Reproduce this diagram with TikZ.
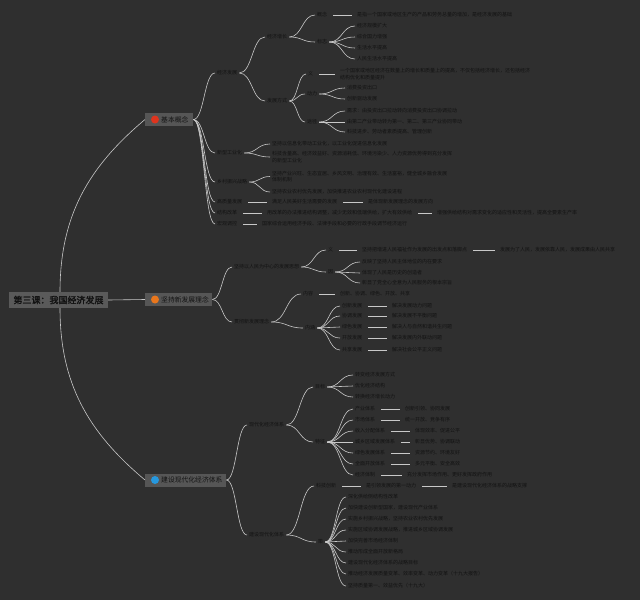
\documentclass[tikz,border=0pt]{standalone}
\usepackage{fontspec}
\setmainfont{Noto Sans CJK SC}
\newfontfamily\cjkbold[FakeBold=2]{Noto Sans CJK SC}
\usetikzlibrary{calc}
\definecolor{bgc}{RGB}{47,47,47}
\definecolor{lc}{RGB}{200,200,200}
\definecolor{tc}{RGB}{18,18,18}
\definecolor{boxc}{RGB}{86,86,86}
\definecolor{rootc}{RGB}{90,90,90}
\definecolor{dotr}{RGB}{222,52,30}
\definecolor{doto}{RGB}{232,118,28}
\definecolor{dotb}{RGB}{38,152,222}
\begin{document}
\begin{tikzpicture}[x=1pt,y=-1pt,
 conn/.style={draw=lc,line width=0.6pt},
 sbr/.style={to path={let \p1=(\tikztostart),\p2=(\tikztotarget),\n1={(\x1+\x2)/2} in .. controls (\n1,\y1) and (\n1,\y2) .. (\tikztotarget)}},
 lab/.style={anchor=west,inner sep=2pt,xshift=-2pt,font=\fontsize{5}{6.5}\selectfont,text=tc,align=left},
 mbox/.style={fill=boxc,minimum height=13pt,inner sep=0pt,anchor=west},
 mtext/.style={anchor=west,inner sep=0pt,font=\fontsize{6.8}{8}\selectfont,text=tc},
 dot/.style={circle,inner sep=0pt,minimum size=8pt},
 rowl/.style={conn,shorten <=4pt,shorten >=3pt},
]
\useasboundingbox (0,0) rectangle (640,600);
\fill[bgc] (0,0) rectangle (640,600);

% main boxes
\node[mbox,minimum width=48pt] (k1) at (145,119.5) {};
\node[dot,fill=dotr] (k1c) at (155,119.5) {};
\node[mtext] (k1t) at (161,119.5) {基本概念};
\node[mbox,minimum width=67pt] (k2) at (145,299.5) {};
\node[dot,fill=doto] (k2c) at (155,299.5) {};
\node[mtext] (k2t) at (161,299.5) {坚持新发展理念};
\node[mbox,minimum width=81pt] (k3) at (145,480) {};
\node[dot,fill=dotb] (k3c) at (155,480) {};
\node[mtext] (k3t) at (161,480) {建设现代化经济体系};

% root
\coordinate (rtop) at (60,292);
\coordinate (rbot) at (60,308);
\draw[conn] (rtop) to[out=90,in=220] (k1.west);
\draw[conn] (rbot) to[out=270,in=140] (k3.west);
\node[fill=rootc,minimum width=99pt,minimum height=16pt,inner sep=0pt,font=\cjkbold\fontsize{9}{10}\selectfont,text=tc] (root) at (58.5,300) {第三课：我国经济发展};
\draw[conn] (root.east) -- (k2.west);

% ---------- branch 1 ----------
\node[lab] (a1) at (217,73) {经济发展};
\node[lab] (b1) at (267,37) {经济增长};
\node[lab] (b2) at (267,101) {发展方式};
\node[lab] (c1) at (317,15) {概念};
\node[lab] (c1t) at (357,15) {是指一个国家或地区生产的产品和劳务总量的增加，是经济发展的基础};
\node[lab] (c2) at (317,42) {标志};
\node[lab] (c2a) at (357,26) {经济规模扩大};
\node[lab] (c2b) at (357,37) {综合国力增强};
\node[lab] (c2c) at (357,48) {生活水平提高};
\node[lab] (c2d) at (357,59) {人民生活水平提高};
\node[lab] (c3) at (308,74) {义};
\node[lab] (c3t) at (340,74) {一个国家或地区经济在数量上的增长和质量上的提高，不仅包括经济增长，还包括经济\\结构优化和质量提升};
\node[lab] (c4) at (307,94) {动力};
\node[lab] (c4a) at (347,88) {消费投资出口};
\node[lab] (c4b) at (347,99) {创新驱动发展};
\node[lab] (c5) at (307,122) {途径};
\node[lab] (c5a) at (347,111) {需求：由投资出口拉动转向消费投资出口协调拉动};
\node[lab] (c5b) at (347,122) {由第二产业带动转为第一、第二、第三产业协同带动};
\node[lab] (c5c) at (347,132) {科技进步、劳动者素质提高、管理创新};

\node[lab] (a2) at (217,153) {新型工业化};
\node[lab] (a2a) at (272,144) {坚持以信息化带动工业化，以工业化促进信息化发展};
\node[lab] (a2b) at (272,157) {科技含量高、经济效益好、资源消耗低、环境污染少、人力资源优势得到充分发挥\\的新型工业化};
\node[lab] (a3) at (217,182) {乡村振兴战略};
\node[lab] (a3a) at (272,176.5) {坚持产业兴旺、生态宜居、乡风文明、治理有效、生活富裕，健全城乡融合发展\\体制机制};
\node[lab] (a3b) at (272,192) {坚持农业农村优先发展，加快推进农业农村现代化建设进程};
\node[lab] (a4) at (217,202) {高质量发展};
\node[lab] (a4a) at (272,202) {满足人民美好生活需要的发展};
\node[lab] (a4b) at (368,202) {是体现新发展理念的发展方向};
\node[lab] (a5) at (217,213) {结构改革};
\node[lab] (a5a) at (267,213) {用改革的办法推进结构调整，减少无效和低端供给，扩大有效供给};
\node[lab] (a5b) at (437,213) {增强供给结构对需求变化的适应性和灵活性，提高全要素生产率};
\node[lab] (a6) at (217,224) {宏观调控};
\node[lab] (a6a) at (262,224) {国家综合运用经济手段、法律手段和必要的行政手段调节经济运行};

% ---------- branch 2 ----------
\node[lab] (d1) at (234,267) {坚持以人民为中心的发展思想};
\node[lab] (d2) at (234,322) {贯彻新发展理念};
\node[lab] (e1) at (328,250) {义};
\node[lab] (e1t) at (362,250) {坚持把增进人民福祉作为发展的出发点和落脚点};
\node[lab] (e1u) at (500,250) {发展为了人民，发展依靠人民，发展成果由人民共享};
\node[lab] (e2) at (328,272) {因};
\node[lab] (e2a) at (362,262) {反映了坚持人民主体地位的内在要求};
\node[lab] (e2b) at (362,273) {体现了人民是历史的创造者};
\node[lab] (e2c) at (362,283) {彰显了党全心全意为人民服务的根本宗旨};
\node[lab] (e3) at (303,294) {内容};
\node[lab] (e3t) at (340,294) {创新、协调、绿色、开放、共享};
\node[lab] (e4) at (305,328) {内涵};
\node[lab] (r1) at (342,306) {创新发展};
\node[lab] (r1t) at (392,306) {解决发展动力问题};
\node[lab] (r2) at (342,316) {协调发展};
\node[lab] (r2t) at (392,316) {解决发展不平衡问题};
\node[lab] (r3) at (342,327) {绿色发展};
\node[lab] (r3t) at (392,327) {解决人与自然和谐共生问题};
\node[lab] (r4) at (342,338) {开放发展};
\node[lab] (r4t) at (392,338) {解决发展内外联动问题};
\node[lab] (r5) at (342,350) {共享发展};
\node[lab] (r5t) at (392,350) {解决社会公平正义问题};

% ---------- branch 3 ----------
\node[lab] (f1) at (249,425) {现代化经济体系};
\node[lab] (f2) at (249,535) {建设现代化体系};
\node[lab] (g1) at (315,387) {目标};
\node[lab] (g1a) at (355,375) {转变经济发展方式};
\node[lab] (g1b) at (355,386) {优化经济结构};
\node[lab] (g1c) at (355,397) {转换经济增长动力};
\node[lab] (g2) at (315,442) {特征};
\node[lab] (s1) at (355,409) {产业体系};
\node[lab] (s1t) at (405,409) {创新引领、协同发展};
\node[lab] (s2) at (355,420) {市场体系};
\node[lab] (s2t) at (405,420) {统一开放、竞争有序};
\node[lab] (s3) at (355,431) {收入分配体系};
\node[lab] (s3t) at (415,431) {体现效率、促进公平};
\node[lab] (s4) at (355,442) {城乡区域发展体系};
\node[lab] (s4t) at (415,442) {彰显优势、协调联动};
\node[lab] (s5) at (355,453) {绿色发展体系};
\node[lab] (s5t) at (415,453) {资源节约、环境友好};
\node[lab] (s6) at (355,464) {全面开放体系};
\node[lab] (s6t) at (415,464) {多元平衡、安全高效};
\node[lab] (s7) at (355,475) {经济体制};
\node[lab] (s7t) at (407,475) {充分发挥市场作用、更好发挥政府作用};
\node[lab] (g3) at (316,486) {科技创新};
\node[lab] (g3a) at (366,486) {是引领发展的第一动力};
\node[lab] (g3b) at (452,486) {是建设现代化经济体系的战略支撑};
\node[lab] (g4) at (318,542) {策};
\node[lab] (h1) at (348,497) {深化供给侧结构性改革};
\node[lab] (h2) at (348,508) {加快建设创新型国家，建设现代产业体系};
\node[lab] (h3) at (348,519) {实施乡村振兴战略，坚持农业农村优先发展};
\node[lab] (h4) at (348,530) {实施区域协调发展战略，推进城乡区域协调发展};
\node[lab] (h5) at (348,541) {加快完善市场经济体制};
\node[lab] (h6) at (348,552) {推动形成全面开放新格局};
\node[lab] (h7) at (348,563) {建设现代化经济体系的战略目标};
\node[lab] (h8) at (348,574) {推动经济发展质量变革、效率变革、动力变革（十九大报告）};
\node[lab] (h9) at (348,586) {坚持质量第一、效益优先（十九大）};

% curved branches
\foreach \pa/\ch in {k1/a1,k1/a2,k1/a3,k1/a4,k1/a5,k1/a6,
  a1/b1,a1/b2,b1/c1,b1/c2,c2/c2a,c2/c2b,c2/c2c,c2/c2d,
  b2/c3,b2/c4,b2/c5,c4/c4a,c4/c4b,c5/c5a,c5/c5b,c5/c5c,
  a2/a2a,a2/a2b,a3/a3a,a3/a3b,
  k2/d1,k2/d2,d1/e1,d1/e2,e2/e2a,e2/e2b,e2/e2c,d2/e3,d2/e4,
  e4/r1,e4/r2,e4/r3,e4/r4,e4/r5,
  k3/f1,k3/f2,f1/g1,f1/g2,g1/g1a,g1/g1b,g1/g1c,
  g2/s1,g2/s2,g2/s3,g2/s4,g2/s5,g2/s6,g2/s7,
  f2/g3,f2/g4,g4/h1,g4/h2,g4/h3,g4/h4,g4/h5,g4/h6,g4/h7,g4/h8,g4/h9}
  \draw[conn] (\pa.east) to[sbr] (\ch.west);

% straight links
\foreach \pa/\ch in {c1/c1t,c3/c3t,a4/a4a,a4a/a4b,a5/a5a,a5a/a5b,a6/a6a,
  e1/e1t,e1t/e1u,e3/e3t,r1/r1t,r2/r2t,r3/r3t,r4/r4t,r5/r5t,
  s1/s1t,s2/s2t,s3/s3t,s4/s4t,s5/s5t,s6/s6t,s7/s7t,g3/g3a,g3a/g3b}
  \draw[rowl] (\pa.east) -- (\ch.west);
\end{tikzpicture}
\end{document}
